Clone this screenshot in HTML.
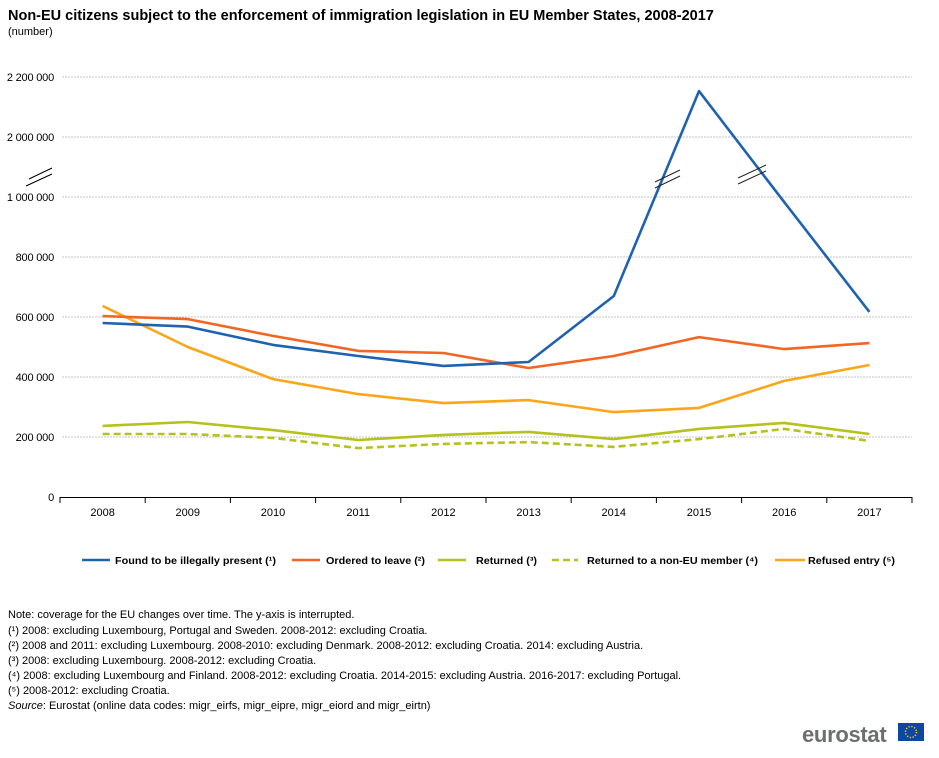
<!DOCTYPE html>
<html><head><meta charset="utf-8"><style>
body{margin:0;background:#fff;font-family:"Liberation Sans",Arial,sans-serif;}
svg{display:block}
</style></head><body>
<svg width="939" height="758" xmlns="http://www.w3.org/2000/svg" font-family="Liberation Sans, Arial, sans-serif">
<text x="8" y="20" font-size="14.5" font-weight="bold" fill="#000">Non-EU citizens subject to the enforcement of immigration legislation in EU Member States, 2008-2017</text>
<text x="8" y="35" font-size="11" fill="#000">(number)</text>
<g id="grid"></g>
<g id="axes"></g>
<g id="series"></g>
<g id="legend"></g>
<g font-size="11" fill="#000">
<text x="8" y="618">Note: coverage for the EU changes over time. The y-axis is interrupted.</text>
<text x="8" y="634">(¹) 2008: excluding Luxembourg, Portugal and Sweden. 2008-2012: excluding Croatia.</text>
<text x="8" y="649">(²) 2008 and 2011: excluding Luxembourg. 2008-2010: excluding Denmark. 2008-2012: excluding Croatia. 2014: excluding Austria.</text>
<text x="8" y="664">(³) 2008: excluding Luxembourg. 2008-2012: excluding Croatia.</text>
<text x="8" y="679">(⁴) 2008: excluding Luxembourg and Finland. 2008-2012: excluding Croatia. 2014-2015: excluding Austria. 2016-2017: excluding Portugal.</text>
<text x="8" y="694">(⁵) 2008-2012: excluding Croatia.</text>
<text x="8" y="709"><tspan font-style="italic">Source</tspan>: Eurostat (online data codes: migr_eirfs, migr_eipre, migr_eiord and migr_eirtn)</text>
</g>
<g>
<text x="802" y="742" font-size="22" fill="#6d6e70" font-weight="bold" letter-spacing="-0.3">eurostat</text>
<rect x="898" y="723" width="26" height="18" fill="#0e47a1"/>
<circle cx="911" cy="732" r="5.5" fill="none" stroke="#ffd200" stroke-width="1.5" stroke-dasharray="1.2 1.7"/>
</g>
</svg>
<script>
const years=["2008","2009","2010","2011","2012","2013","2014","2015","2016","2017"];
const found=[580000,568000,507000,470000,437000,450000,670000,2153000,983000,617000];
const ordered=[603000,593000,537000,487000,480000,430000,470000,533000,493000,513000];
const returned=[237000,250000,223000,190000,207000,217000,193000,227000,247000,210000];
const returnedNonEU=[210000,210000,197000,163000,177000,183000,167000,193000,227000,187000];
const refused=[637000,500000,393000,343000,313000,323000,283000,297000,387000,440000];
const tickValues=[0,200000,400000,600000,800000,1000000,2000000,2200000];
const tickLabels=["0","200 000","400 000","600 000","800 000","1 000 000","2 000 000","2 200 000"];
const NS="http://www.w3.org/2000/svg";
function mk(tag,attrs,parent){const e=document.createElementNS(NS,tag);for(const k in attrs)e.setAttribute(k,attrs[k]);parent.appendChild(e);return e;}
const X0=60,X1=912,step=(X1-X0)/years.length;
function x(i){return X0+step*(i+0.5);}
function y(v){
 if(v<=1000000)return 497-v*60/200000;
 if(v>=2000000)return 137-(v-2000000)*60/200000;
 return 197-(v-1000000)*60/1000000;
}
const grid=document.getElementById('grid'),axes=document.getElementById('axes'),ser=document.getElementById('series'),leg=document.getElementById('legend');
tickValues.forEach((v,i)=>{
 const yy=y(v);
 if(v>0){const g=mk('line',{x1:62,x2:X1,y1:yy,y2:yy,stroke:'#b0b0b0','stroke-width':0.8,'stroke-dasharray':'2 1'},grid);
 
 }
 const t=mk('text',{x:54,y:yy+4,'font-size':11,'text-anchor':'end',fill:'#000','letter-spacing':'-0.2'},axes);t.textContent=tickLabels[i];
 
 
});
const ax=mk('line',{x1:X0,x2:X1,y1:497.5,y2:497.5,stroke:'#000','stroke-width':1},axes);


for(let i=0;i<=years.length;i++){const xx=X0+step*i;mk('line',{x1:xx,x2:xx,y1:497,y2:503,stroke:'#000','stroke-width':1},axes);}
years.forEach((yr,i)=>{const t=mk('text',{x:x(i),y:516,'font-size':11,'text-anchor':'middle',fill:'#000'},axes);t.textContent=yr;
 
 });
mk('path',{d:'M26,186 L52,174 M29,179 L52,168',stroke:'#000','stroke-width':1,fill:'none'},axes);
const series=[
 {name:'Found to be illegally present (¹)',data:found,color:'#1f62b0',dash:null,key:'found-line'},
 {name:'Ordered to leave (²)',data:ordered,color:'#f26522',dash:null,key:'ordered-line'},
 {name:'Returned (³)',data:returned,color:'#b5c11c',dash:null,key:'returned-line'},
 {name:'Returned to a non-EU member (⁴)',data:returnedNonEU,color:'#b5c11c',dash:'7 4',key:'returned-non-eu-line'},
 {name:'Refused entry (⁵)',data:refused,color:'#fba61a',dash:null,key:'refused-line'}
];
series.slice().reverse().forEach(s=>{
 const d=s.data.map((v,i)=>(i?'L':'M')+x(i).toFixed(1)+','+y(v).toFixed(1)).join(' ');
 const a={d:d,fill:'none',stroke:s.color,'stroke-width':2.6,'stroke-linejoin':'round'};
 if(s.dash)a['stroke-dasharray']=s.dash;
 const p=mk('path',a,ser);
 
 
});
mk('path',{d:'M655,182 L680,170 M655,188 L680,176 M738,184 L766,171 M738,178 L766,165',stroke:'#222','stroke-width':1,fill:'none'},ser);
const legLine=[[82,110],[292,320],[438,466],[552,578],[775,805]];
const legText=[[115,161],[326,99],[476,61],[587,171],[808,87]];
series.forEach((s,i)=>{
 const g=mk('g',{},leg);
 
 
 const a={x1:legLine[i][0],x2:legLine[i][1],y1:560,y2:560,stroke:s.color,'stroke-width':2.6};
 if(s.dash)a['stroke-dasharray']='7 4';
 mk('line',a,g);
 const t=mk('text',{x:legText[i][0],y:564,'font-size':10.5,'font-weight':'bold',fill:'#000',textLength:legText[i][1],lengthAdjust:'spacingAndGlyphs'},g);t.textContent=s.name;
});
</script>
</body></html>
